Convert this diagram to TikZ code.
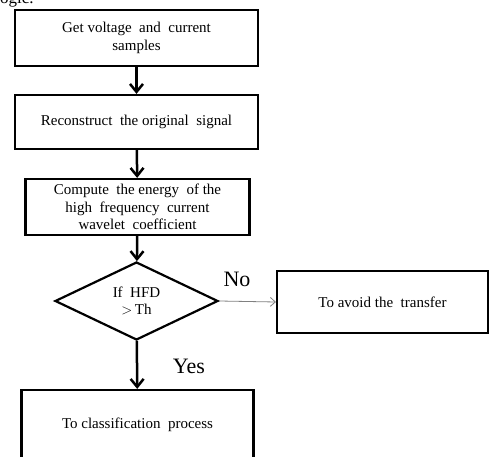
\documentclass[tikz,border=0pt]{standalone}
\usepackage{fontspec}
\setmainfont{Liberation Serif}
\usetikzlibrary{shapes.geometric,arrows.meta}
\begin{document}
\begin{tikzpicture}[x=1pt,y=-1pt,
  box/.style={draw=black,line width=2.2pt,rectangle,inner sep=0pt,align=center,font=\fontsize{15}{17.5}\selectfont},
  dec/.style={draw=black,line width=2.2pt,diamond,inner sep=0pt,align=center,font=\fontsize{15}{17.5}\selectfont,minimum width=163pt,minimum height=78pt},
  flow/.style={line width=2.5pt,-{Straight Barb[length=8pt,width=13pt,line width=2.5pt]}},
  thinflow/.style={draw=gray,line width=0.8pt,-{Straight Barb[length=5pt,width=9pt,line width=0.8pt]}},
  lbl/.style={font=\fontsize{22}{24}\selectfont,inner sep=0pt}]
\useasboundingbox (0,0) rectangle (490,457);
\clip (0,0) rectangle (490,457);
\node[anchor=base west,inner sep=0pt,font=\fontsize{17}{20}\selectfont] (frag) at (0,4) {ogic.};
\node[box,minimum width=243pt,minimum height=56pt] (b1) at (136.5,38) {Get voltage\ \ and\ \ current\\samples};
\node[box,minimum width=243pt,minimum height=54pt] (b2) at (136.5,122) {Reconstruct\ \ the original\ \ signal};
\node[box,minimum width=224pt,minimum height=56pt] (b3) at (137.5,207) {Compute\ \ the energy\ \ of the\\high\ \ frequency\ \ current\\wavelet\ \ coefficient};
\node[dec] (d) at (136.5,301) {If\ \ HFD\\${>}$\,Th};
\node[box,minimum width=211pt,minimum height=62pt] (r) at (382.5,302) {To avoid the\ \ transfer};
\node[box,minimum width=232pt,minimum height=70pt] (b4) at (137.5,425) {To classification\ \ process};
\node[lbl] (no) at (237,279) {No};
\node[lbl] (yes) at (189,366) {Yes};
\draw[flow] (b1) -- (b2);
\draw[flow] (b2) -- (b3);
\draw[flow] (b3) -- (d);
\draw[flow] (d) -- (b4);
\draw[thinflow] (d.east) -- (r.west);
\end{tikzpicture}
\end{document}
